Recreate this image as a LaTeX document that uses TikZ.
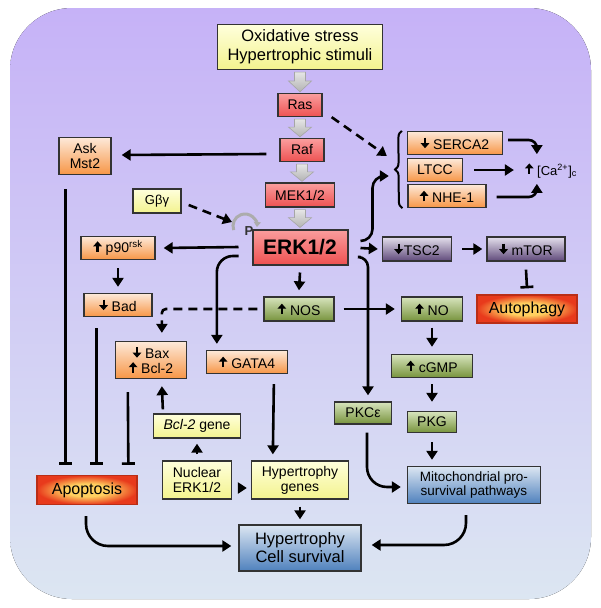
\documentclass[tikz,border=0pt]{standalone}
\usepackage{fontspec}
\setmainfont{Liberation Sans}
\usetikzlibrary{arrows.meta, calc, decorations.pathreplacing}

\definecolor{yeltop}{HTML}{FFFFDC}
\definecolor{yelbot}{HTML}{F3F38E}
\definecolor{redtop}{HTML}{FA9E9E}
\definecolor{redbot}{HTML}{EE5252}
\definecolor{ortop}{HTML}{FDE9D9}
\definecolor{orbot}{HTML}{F79646}
\definecolor{grtop}{HTML}{D7E4BD}
\definecolor{grbot}{HTML}{77933C}
\definecolor{putop}{HTML}{E4DFEC}
\definecolor{pubot}{HTML}{5F497A}
\definecolor{bltop}{HTML}{DCE6F2}
\definecolor{blbot}{HTML}{4F81BD}
\definecolor{bgtop}{HTML}{C6B2F7}
\definecolor{bgbot}{HTML}{DCE6F2}
\definecolor{glowin}{HTML}{FFD060}
\definecolor{glowout}{HTML}{E83A1C}

\pgfdeclareradialshading{glow}{\pgfpoint{0bp}{0bp}}{color(0bp)=(glowin); color(11bp)=(glowin); color(25bp)=(glowout); color(50bp)=(glowout)}

% thick up/down arrows used in the labels
\newsavebox{\upbox}
\newsavebox{\dnbox}
\newcommand{\smallarrow}[2]{%
  \begin{pgfpicture}
    \pgfsetlinewidth{2.2pt}
    \pgfsetarrowsend{Triangle[length=5pt,width=8.5pt]}
    \pgfpathmoveto{\pgfpoint{0pt}{#1}}
    \pgfpathlineto{\pgfpoint{0pt}{#2}}
    \pgfusepath{stroke}
  \end{pgfpicture}}
\newcommand{\up}{\usebox{\upbox}}
\newcommand{\dn}{\usebox{\dnbox}}

\tikzset{
  box/.style={draw=black!80, line width=1.3pt, inner sep=0pt, align=center},
  yellowbox/.style={box, top color=yeltop, bottom color=yelbot},
  redbox/.style={box, top color=redtop, bottom color=redbot},
  orangebox/.style={box, top color=ortop, bottom color=orbot},
  greenbox/.style={box, top color=grtop, bottom color=grbot},
  purplebox/.style={box, top color=putop, bottom color=pubot},
  bluebox/.style={box, top color=bltop, bottom color=blbot},
  glowbox/.style={box, draw=glowout!80!black, shading=glow},
  arr/.style={line width=2.6pt, -{Triangle[length=9pt,width=11pt]}},
  dasharr/.style={arr, dash pattern=on 9pt off 6pt},
  inh/.style={line width=2.6pt, -{Bar[width=13pt]}},
  graybig/.style={draw=gray!70, line width=0.6pt, top color=gray!20, bottom color=gray!60}
}

\begin{document}
\sbox{\upbox}{\smallarrow{0pt}{10.5pt}}
\sbox{\dnbox}{\smallarrow{10.5pt}{0pt}}
\begin{tikzpicture}[x=1pt, y=-1pt, font=\fontsize{14}{15}\selectfont]
  \fill[white] (0,0) rectangle (601,608);
  \fill[top color=bgtop, bottom color=bgbot, rounded corners=62] (10,8) rectangle (591,599);

  % main cascade
  \node[yellowbox, minimum width=165, minimum height=45, font=\fontsize{16.5}{19}\selectfont] (stress) at (300,47) {Oxidative stress\\Hypertrophic stimuli};
  \node[redbox, minimum width=44, minimum height=23] (ras) at (300,105) {Ras};
  \node[redbox, minimum width=44, minimum height=23] (raf) at (302,150) {Raf};
  \node[redbox, minimum width=69, minimum height=24] (mek) at (300,195) {MEK1/2};
  \node[redbox, line width=2pt, minimum width=95, minimum height=35, font=\fontsize{21}{21}\selectfont\bfseries] (erk) at (300,247) {ERK1/2};

  \foreach \a/\b in {stress/ras, ras/raf, raf/mek, mek/erk}
    \path[graybig] let \p1=($(\a.south)+(0,2)$), \p2=($(\b.north)+(0,-1)$), \p3=($(\p1)!0.45!(\p2)$) in
      (\x1-5.5pt,\y1) -- (\x1+5.5pt,\y1) -- (\x1+5.5pt,\y3) -- (\x1+11.5pt,\y3) -- (\x1,\y2)
      -- (\x1-11.5pt,\y3) -- (\x1-5.5pt,\y3) -- cycle;

  \node[text=black!80, font=\fontsize{13}{13}\selectfont\bfseries] (phos) at (249,231) {P};
  \draw[gray!65, line width=3pt, -{Triangle[length=5pt,width=7pt]}] ($(phos)+(-15.3,-0.9)$) arc[start angle=160, end angle=365, radius=12];

  % left side
  \node[yellowbox, minimum width=48, minimum height=24, font=\fontsize{13}{13}\selectfont] (gby) at (157,201) {Gβγ};
  \node[orangebox, minimum width=52, minimum height=37] (ask) at (85,156) {Ask\\Mst2};
  \node[orangebox, minimum width=74, minimum height=23] (p90) at (118,248) {\up\ p90\textsuperscript{rsk}};
  \node[orangebox, minimum width=68, minimum height=23] (bad) at (118,305) {\dn\ Bad};
  \node[orangebox, minimum width=71, minimum height=37] (bax) at (151,360) {\dn\ Bax\\\up\ Bcl-2};
  \node[orangebox, minimum width=81, minimum height=23] (gata) at (247,362) {\up\ GATA4};
  \node[glowbox, minimum width=100, minimum height=29, font=\fontsize{16}{16}\selectfont] (apop) at (87,490) {Apoptosis};
  \node[yellowbox, minimum width=87, minimum height=24] (bclg) at (197,426) {\textit{Bcl-2} gene};
  \node[yellowbox, minimum width=69, minimum height=38] (nuc) at (197,480) {Nuclear\\ERK1/2};
  \node[yellowbox, minimum width=97, minimum height=38] (hgen) at (300,480) {Hypertrophy\\genes};
  \node[bluebox, minimum width=122, minimum height=46, font=\fontsize{16.5}{18}\selectfont] (hcs) at (300,548) {Hypertrophy\\Cell survival};

  % right side
  \node[greenbox, minimum width=70, minimum height=24] (nos) at (299,309) {\up\ NOS};
  \node[greenbox, minimum width=61, minimum height=24] (no) at (432,309) {\up\ NO};
  \node[greenbox, minimum width=81, minimum height=23] (cgmp) at (432,366) {\up\ cGMP};
  \node[greenbox, minimum width=57, minimum height=22] (pkc) at (363,413) {PKCε};
  \node[greenbox, minimum width=49, minimum height=21] (pkg) at (432,422) {PKG};
  \node[purplebox, minimum width=69, minimum height=24] (tsc) at (417,249) {\dn\kern1pt TSC2};
  \node[purplebox, minimum width=78, minimum height=24] (mtor) at (526,249) {\dn\ mTOR};
  \node[glowbox, minimum width=100, minimum height=28, font=\fontsize{16}{16}\selectfont] (auto) at (527,309) {Autophagy};
  \node[orangebox, minimum width=95, minimum height=23] (serca) at (455,143) {\dn\ SERCA2};
  \node[orangebox, minimum width=55, minimum height=23] (ltcc) at (435,170) {LTCC};
  \node[orangebox, minimum width=78, minimum height=23] (nhe) at (447,196) {\up\ NHE-1};
  \node[inner sep=0pt, font=\fontsize{13}{13}\selectfont] (ca) at (551,170) {\up\ [Ca\textsuperscript{2+}]\textsubscript{c}};
  \node[bluebox, minimum width=133, minimum height=37, font=\fontsize{13.5}{14.5}\selectfont] (mito) at (474,485) {Mitochondrial pro-\\survival pathways};

  % brace round the Ca2+ handlers
  \coordinate (btop) at ($(serca.north west)+(-5,0)$);
  \coordinate (bbot) at ($(nhe.south west)+(-5,0)$);
  \draw[line width=2pt, decorate, decoration={brace, amplitude=7pt}] (bbot) -- (btop);
  \coordinate (bup) at ($(serca.west)+(-20,13)$);
  \coordinate (bmid) at ($(ltcc.west)+(-18,6)$);

  % connectors
  \draw[dasharr] ($(ras.south east)+(9,0)$) -- (bup);
  \draw[arr] ($(raf.west)+(-13,4)$) -- ($(ask.east)+(10,-1)$);
  \draw[dasharr] ($(gby.east)+(7,4)$) -- ($(phos)+(-17,-9)$);
  \draw[arr] ($(erk.west)+(-13,0)$) -- ($(p90.east)+(8,0)$);
  \draw[arr] ($(p90.south)+(0,8)$) -- ($(bad.north)+(0,-6)$);
  \draw[arr, rounded corners=16] ($(erk.west)+(-13,9)$) -| ($(gata.north west)+(11,-6)$);
  \draw[arr] ($(erk.south)+(0,7)$) -- ($(nos.north)+(0,-6)$);
  \draw[dasharr, rounded corners=4] ($(nos.west)+(-6,0)$) -| ($(bax.north west)+(47,-8)$);
  \draw[arr, rounded corners=12] ($(erk.east)+(12,-6)$) -- ++(12,0) |- (bmid);
  \draw[arr, rounded corners=10] ($(erk.east)+(12,10)$) -| ($(pkc.north)+(5,-6)$);
  \draw[arr] ($(erk.east)+(12,1)$) -- ($(tsc.west)+(-4,0)$);
  \draw[arr] ($(tsc.east)+(10,0)$) -- ($(mtor.west)+(-4,0)$);
  \draw[inh] ($(mtor.south)+(0,8)$) -- ($(auto.north)+(0,-6)$);
  \draw[arr] ($(nos.east)+(9,0)$) -- ($(no.west)+(-6,0)$);
  \draw[arr] ($(no.south)+(0,6)$) -- ($(cgmp.north)+(0,-7)$);
  \draw[arr] ($(cgmp.south)+(0,6)$) -- ($(pkg.north)+(0,-9)$);
  \draw[arr] ($(pkg.south)+(0,9)$) -- ($(mito.north)+(-42,-6)$);
  \draw[arr, rounded corners=20] ($(pkc.south)+(4,8)$) |- ($(mito.west)+(-6,2)$);
  \draw[arr, rounded corners=8] ($(serca.east)+(5,-3)$) -| ($(ca.north west)+(12,-8)$);
  \draw[arr] ($(ltcc.east)+(11,0)$) -- ($(ca.west)+(-11,0)$);
  \draw[arr, rounded corners=8] ($(nhe.east)+(10,1)$) -| ($(ca.south west)+(12,6)$);

  \draw[inh] ($(ask.south west)+(7,14)$) -- ($(apop.north west)+(29,-10)$);
  \draw[inh] ($(bad.south west)+(13,11)$) -- ($(apop.north west)+(60,-10)$);
  \draw[inh] ($(bax.south west)+(13,13)$) -- ($(apop.north west)+(92,-10)$);
  \draw[arr] ($(bclg.north west)+(10,-4)$) -- ($(bax.south west)+(47,7)$);
  \draw[arr] ($(nuc.north)+(0,-6)$) -- ($(bclg.south)+(0,5)$);
  \draw[arr] ($(nuc.east)+(6,8)$) -- ($(hgen.west)+(-4,8)$);
  \draw[arr] ($(gata.south west)+(68,10)$) -- ($(hgen.north west)+(22,-6)$);
  \draw[arr] ($(hgen.south)+(0,7)$) -- ($(hcs.north)+(0,-5)$);
  \draw[arr, rounded corners=22] ($(apop.south)+(-1,11)$) |- ($(hcs.west)+(-7,-2)$);
  \draw[arr, rounded corners=22] ($(mito.south)+(-8,11)$) |- ($(hcs.east)+(10,-3)$);
\end{tikzpicture}
\end{document}
